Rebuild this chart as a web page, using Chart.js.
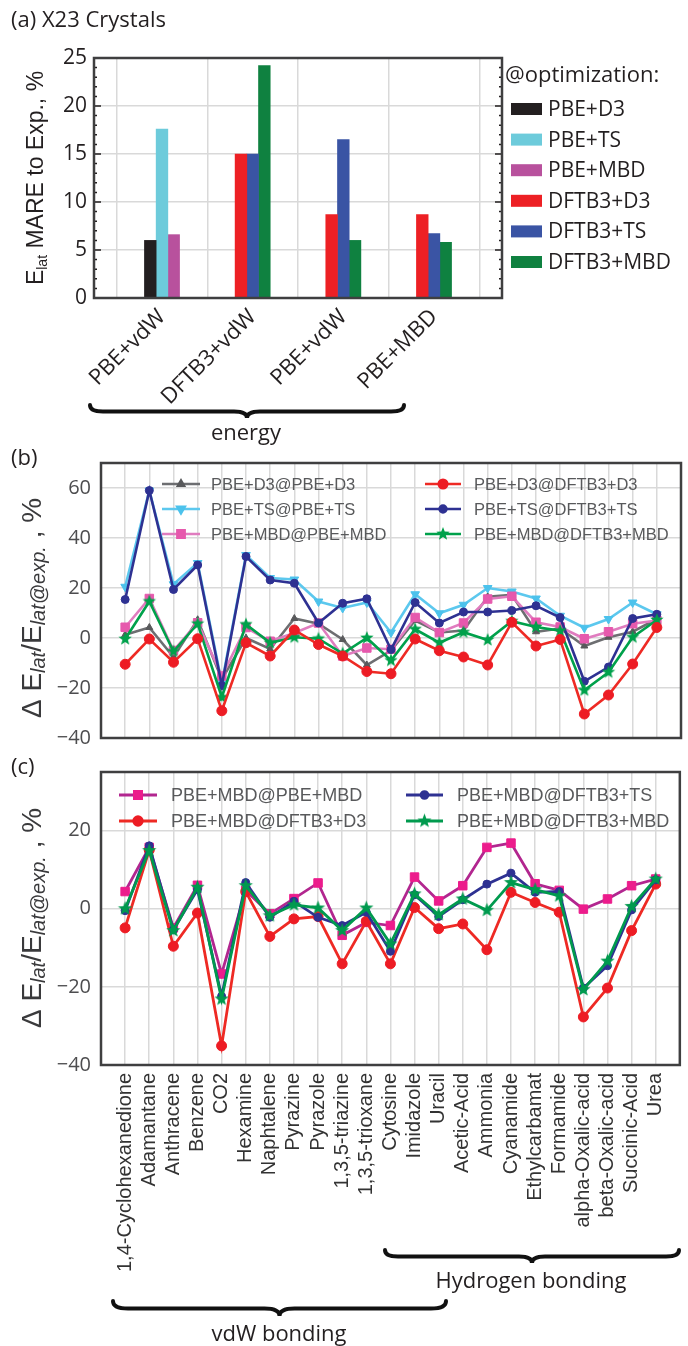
<!DOCTYPE html>
<html>
<head>
<meta charset="utf-8">
<script src="https://cdn.jsdelivr.net/npm/chart.js@4.4.1/dist/chart.umd.min.js"></script>
<style>
  html, body { margin: 0; padding: 0; background: #fff; }
  body { width: 688px; height: 1346px; position: relative; overflow: hidden; }
  .panel { position: absolute; left: 0; width: 688px; }
  #pa { top: 0; height: 445px; }
  #pb { top: 440px; height: 320px; }
  #pc { top: 750px; height: 596px; }
</style>
</head>
<body>
<div class="panel" id="pa"><canvas id="chartA"></canvas></div>
<div class="panel" id="pb"><canvas id="chartB"></canvas></div>
<div class="panel" id="pc"><canvas id="chartC"></canvas></div>
<script>
// (a) MARE por método de optimización
const groupLabels = ['PBE+vdW', 'DFTB3+vdW', 'PBE+vdW', 'PBE+MBD'];
const optLabels = ['PBE+D3', 'PBE+TS', 'PBE+MBD', 'DFTB3+D3', 'DFTB3+TS', 'DFTB3+MBD'];
const mareD3Pbe = [6.0, null, null, null];
const mareTsPbe = [17.6, null, null, null];
const mareMbdPbe = [6.6, null, null, null];
const mareD3Dftb = [null, 15.0, 8.7, 8.7];
const mareTsDftb = [null, 15.0, 16.5, 6.7];
const mareMbdDftb = [null, 24.2, 6.0, 5.8];
const mareTicks = [0, 5, 10, 15, 20, 25];

// (b), (c) desviación por cristal
const crystals = ['1,4-Cyclohexanedione', 'Adamantane', 'Anthracene', 'Benzene', 'CO2', 'Hexamine',
  'Naphtalene', 'Pyrazine', 'Pyrazole', '1,3,5-triazine', '1,3,5-trioxane', 'Cytosine', 'Imidazole',
  'Uracil', 'Acetic-Acid', 'Ammonia', 'Cyanamide', 'Ethylcarbamat', 'Formamide', 'alpha-Oxalic-acid',
  'beta-Oxalic-acid', 'Succinic-Acid', 'Urea'];
const devTicksB = [-40, -20, 0, 20, 40, 60];
const devTicksC = [-40, -20, 0, 20];

const d3AtPbeD3 = [1.3, 4.2, -7.6, 7.3, -16.5, 0, -4.4, 7.8, 5.7, -0.6, -10.8, -5, 7, 2.2, 3, 16.5, 17.3, 2.5, 3.8, -3.2, 0.3, 2.5, 7.6];
const d3AtDftbD3 = [-10.5, -0.4, -9.7, -0.3, -29.1, -1.9, -7.2, 3.2, -2.6, -7.2, -13.4, -14.3, -0.4, -5.1, -7.6, -10.8, 6.3, -3.2, -0.6, -30.4, -22.8, -10.4, 4.2];
const tsAtPbeTs = [20.5, 59, 21.5, 30, -18, 33.2, 24, 23.4, 14.6, 12, 14.2, 2.2, 17.5, 9.9, 13.3, 20, 18.6, 15.8, 8.9, 4.1, 7.6, 14.2, 9.5];
const tsAtDftbTs = [15.4, 59, 19.4, 29.2, -19, 32.6, 23.2, 21.9, 6, 13.9, 15.7, -4.6, 14.2, 6, 10.4, 10.4, 11, 12.9, 8.2, -17.3, -11.6, 7.8, 9.5];
const mbdAtPbeMbd = [4.3, 15.8, -5, 6.1, -15.2, 4.2, -1.3, 2, 6, -7.2, -4, -4.5, 8.2, 2.2, 6, 15.6, 16.7, 6.3, 4.4, -0.3, 2.5, 5.7, 7];
const mbdAtDftbMbd = [-0.4, 14.6, -5.4, 5.7, -23.7, 5.4, -1.9, 0.3, -0.3, -6.2, 0, -9, 3.5, -1.9, 2.3, -0.8, 6.7, 4.4, 2.9, -20.9, -13.7, 0.3, 7.2];

const mbdC_PbeMbd = [4.4, 15.7, -4.9, 6, -16.7, 4.7, -1.3, 2.6, 6.6, -6.8, -3.5, -4.3, 8.1, 2, 5.9, 15.7, 16.8, 6.4, 4.7, -0.1, 2.5, 5.9, 7.6];
const mbdC_DftbD3 = [-4.9, 15, -9.6, -1.1, -35.1, 4.4, -7.1, -2.6, -2, -14.1, -3.2, -14.1, 0.3, -5.1, -3.9, -10.5, 4.2, 1.6, -0.9, -27.7, -20.3, -5.6, 6.3];
const mbdC_DftbTs = [-0.5, 16.1, -5.4, 4.9, -22.4, 6.7, -2.2, 1.9, -2.2, -4.3, -0.9, -10.9, 3.6, -2, 2.3, 6.3, 9.1, 4.2, 4.4, -20.3, -14.6, -0.3, 7.4];
const mbdC_DftbMbd = [0, 14.9, -5.6, 5.5, -23.1, 5.9, -1.8, 1, 0.2, -5.6, 0.2, -9, 3.8, -1.5, 2.5, -0.4, 6.7, 4.9, 3.3, -20.7, -13.4, 0.6, 7.6];

Chart.defaults.animation = false;
Chart.defaults.font.family = '"Open Sans", sans-serif';

const GRID = '#d9d9d9';
const FRAME = '#3f3f40';
const MYRIAD = '"Open Sans", sans-serif';
const HELV = '"Liberation Sans", Arial, sans-serif';

// estrella rellena para PBE+MBD@DFTB3+MBD
function starImage(color, r) {
    const c = document.createElement('canvas');
    const s = Math.ceil(r * 2 + 2);
    c.width = s; c.height = s;
    const g = c.getContext('2d');
    g.fillStyle = color;
    g.beginPath();
    for (let k = 0; k < 10; k++) {
        const rad = k % 2 === 0 ? r : r * 0.42;
        const ang = -Math.PI / 2 + k * Math.PI / 5;
        const px = s / 2 + rad * Math.cos(ang), py = s / 2 + rad * Math.sin(ang);
        k === 0 ? g.moveTo(px, py) : g.lineTo(px, py);
    }
    g.closePath();
    g.fill();
    return c;
}

const toXY = arr => arr.map((v, i) => ({ x: i, y: v }));
const minus = v => String(v).replace('-', '\u2212');

function brace(ctx, x1, x2, y, h) {
    const xm = (x1 + x2) / 2, r = h / 2;
    ctx.beginPath();
    ctx.moveTo(x1, y);
    ctx.quadraticCurveTo(x1, y + r, x1 + 2 * r, y + r);
    ctx.lineTo(xm - 2 * r, y + r);
    ctx.quadraticCurveTo(xm, y + r, xm, y + h);
    ctx.quadraticCurveTo(xm, y + r, xm + 2 * r, y + r);
    ctx.lineTo(x2 - 2 * r, y + r);
    ctx.quadraticCurveTo(x2, y + r, x2, y);
    ctx.stroke();
}

function rotTitle(ctx, parts, cx, cy) {
    ctx.save();
    ctx.translate(cx, cy);
    ctx.rotate(-Math.PI / 2);
    let total = 0;
    parts.forEach(p => { ctx.font = p.font; p.w = ctx.measureText(p.text).width; total += p.w; });
    let x = -total / 2;
    ctx.textAlign = 'left';
    ctx.textBaseline = 'alphabetic';
    parts.forEach(p => {
        ctx.font = p.font;
        ctx.fillStyle = p.color;
        ctx.fillText(p.text, x, p.dy || 0);
        x += p.w;
    });
    ctx.restore();
}

// marco, leyendas, títulos y llaves
const decor = {
    id: 'decor',
    afterDraw(chart, args, o) {
        const ctx = chart.ctx, a = chart.chartArea;
        ctx.save();
        if (o.minorTicks) {
            const ys = chart.scales.y;
            ctx.strokeStyle = '#231f20';
            ctx.lineWidth = 1.5;
            for (let v = ys.min; v <= ys.max; v += 1) {
                const p = ys.getPixelForValue(v);
                const len = v % 5 === 0 ? 7 : 3;
                ctx.beginPath();
                ctx.moveTo(a.left, p); ctx.lineTo(a.left + len, p);
                ctx.moveTo(a.right, p); ctx.lineTo(a.right - len, p);
                ctx.stroke();
            }
        }
        ctx.strokeStyle = FRAME;
        ctx.lineWidth = 2.5;
        ctx.strokeRect(a.left, a.top, a.right - a.left, a.bottom - a.top);

        const lg = o.legend;
        if (lg && lg.type === 'box') {
            ctx.font = lg.titleFont; ctx.fillStyle = '#231f20';
            ctx.textBaseline = 'middle'; ctx.textAlign = 'left';
            ctx.fillText(lg.title, lg.titleX, lg.titleY);
            chart.data.datasets.forEach((ds, i) => {
                const y = lg.y0 + i * lg.dy;
                ctx.fillStyle = ds.backgroundColor;
                ctx.fillRect(lg.boxX, y - lg.boxH / 2, lg.boxW, lg.boxH);
                ctx.font = lg.font; ctx.fillStyle = '#231f20';
                ctx.fillText(ds.label, lg.textX, y + 1);
            });
        } else if (lg && lg.type === 'line') {
            lg.items.forEach(it => {
                const ds = chart.data.datasets[it.ds];
                ctx.strokeStyle = ds.borderColor;
                ctx.lineWidth = ds.borderWidth;
                ctx.beginPath(); ctx.moveTo(it.x1, it.y); ctx.lineTo(it.x2, it.y); ctx.stroke();
                ctx.fillStyle = ds.pointBackgroundColor;
                ctx.strokeStyle = ds.pointBorderColor;
                Chart.helpers.drawPoint(ctx, {
                    pointStyle: ds.pointStyle, radius: ds.pointRadius * 0.85,
                    rotation: ds.pointRotation || 0, borderWidth: 1
                }, (it.x1 + it.x2) / 2, it.y);
                ctx.font = lg.font; ctx.fillStyle = '#58595b';
                ctx.textAlign = 'left'; ctx.textBaseline = 'middle';
                ctx.fillText(ds.label, it.tx, it.y + 1);
            });
        }

        (o.texts || []).forEach(t => {
            ctx.font = t.font; ctx.fillStyle = t.color || '#231f20';
            ctx.textAlign = t.align || 'left'; ctx.textBaseline = 'middle';
            ctx.fillText(t.text, t.x, t.y);
        });
        ctx.strokeStyle = '#111';
        ctx.lineWidth = 4;
        ctx.lineCap = 'round';
        (o.braces || []).forEach(b => brace(ctx, b.x1, b.x2, b.y, b.h));
        if (o.yTitle) rotTitle(ctx, o.yTitle.parts, o.yTitle.x, o.yTitle.y);
        ctx.restore();
    }
};

// ---------- (a) ----------
const barColors = ['#231f20', '#6dcbdb', '#b8519d', '#ed2024', '#3a54a4', '#0f8140'];
const barSeries = [mareD3Pbe, mareTsPbe, mareMbdPbe, mareD3Dftb, mareTsDftb, mareMbdDftb];

new Chart(document.getElementById('chartA'), {
    type: 'bar',
    data: {
        datasets: barSeries.map((s, i) => ({
            label: optLabels[i],
            data: toXY(s),
            backgroundColor: barColors[i],
            borderWidth: 0,
            barThickness: 11.7,
            skipNull: true
        }))
    },
    options: {
        responsive: true,
        maintainAspectRatio: false,
        layout: { padding: { top: 58, right: 186, left: 0, bottom: 0 } },
        plugins: {
            legend: { display: false },
            tooltip: { enabled: false },
            decor: {
                minorTicks: true,
                legend: {
                    type: 'box', title: '@optimization:', titleX: 505, titleY: 76,
                    titleFont: '22px ' + MYRIAD, font: '21px ' + MYRIAD,
                    y0: 109, dy: 30.6, boxX: 511, boxW: 31, boxH: 12, textX: 548
                },
                texts: [
                    { text: '(a) X23 Crystals', x: 11, y: 21, font: '22px ' + MYRIAD },
                    { text: 'energy', x: 246, y: 434, font: '22px ' + MYRIAD, align: 'center' }
                ],
                braces: [{ x1: 90, x2: 404, y: 405, h: 13 }],
                yTitle: {
                    x: 43, y: 178, parts: [
                        { text: 'E', font: '23px ' + HELV, color: '#231f20' },
                        { text: 'lat', font: '14px ' + HELV, color: '#231f20', dy: 4 },
                        { text: ' MARE to Exp., %', font: '23px ' + HELV, color: '#231f20' }
                    ]
                }
            }
        },
        scales: {
            x: {
                type: 'linear', min: -0.75, max: 3.75, offset: false,
                afterBuildTicks: s => { s.ticks = groupLabels.map((_, i) => ({ value: i })); },
                afterFit: s => { s.height = 147; },
                grid: { color: GRID, lineWidth: 1.5, drawTicks: false },
                border: { display: false },
                ticks: {
                    minRotation: 45, maxRotation: 45, padding: 6, autoSkip: false,
                    color: '#231f20', font: { size: 22, family: MYRIAD },
                    callback: v => groupLabels[v]
                }
            },
            y: {
                min: 0, max: 25,
                afterBuildTicks: s => { s.ticks = mareTicks.map(v => ({ value: v })); },
                afterFit: s => { s.width = 94; },
                grid: { color: GRID, lineWidth: 1.5, drawTicks: false },
                border: { display: false },
                ticks: { padding: 7, color: '#231f20', font: { size: 21, family: MYRIAD } }
            }
        }
    },
    plugins: [decor]
});

// ---------- (b) ----------
const lineSet = (label, data, color, ptColor, style, radius, extra) => Object.assign({
    label, data: toXY(data), borderColor: color, borderWidth: 2.6, tension: 0, fill: false,
    pointStyle: style, pointRadius: radius, pointBackgroundColor: ptColor, pointBorderColor: ptColor,
    pointBorderWidth: 1
}, extra || {});

const greenStar = starImage('#00a14b', 7);
const greenStarC = starImage('#009a4e', 7.5);

const lineScales = (ticks, min, max, showLabels, xHeight) => ({
    x: {
        type: 'linear', min: -1, max: 23, offset: false,
        afterBuildTicks: s => { s.ticks = crystals.map((_, i) => ({ value: i })); },
        afterFit: s => { s.height = xHeight; },
        grid: { color: GRID, lineWidth: 1.5, drawTicks: false },
        border: { display: false },
        ticks: {
            display: showLabels, minRotation: 90, maxRotation: 90, padding: 8, autoSkip: false,
            color: '#333', font: { size: 20, family: HELV },
            callback: v => crystals[v]
        }
    },
    y: {
        min, max,
        afterBuildTicks: s => { s.ticks = ticks.map(v => ({ value: v })); },
        afterFit: s => { s.width = 101; },
        grid: { color: GRID, lineWidth: 1.5, drawTicks: false },
        border: { display: false },
        ticks: { padding: 10, color: '#4d4d4f', font: { size: 20, family: MYRIAD }, callback: minus }
    }
});

const devTitle = (x, y) => ({
    x, y, parts: [
        { text: '\u0394 E', font: '28px ' + HELV, color: '#3a3a3c' },
        { text: 'lat', font: 'italic 20px ' + HELV, color: '#3a3a3c', dy: 4 },
        { text: '/E', font: '28px ' + HELV, color: '#3a3a3c' },
        { text: 'lat@exp.', font: 'italic 20px ' + HELV, color: '#3a3a3c', dy: 4 },
        { text: ' , %', font: '28px ' + HELV, color: '#3a3a3c' }
    ]
});

new Chart(document.getElementById('chartB'), {
    type: 'line',
    data: {
        datasets: [
            lineSet('PBE+D3@PBE+D3', d3AtPbeD3, '#6d6e71', '#58595b', 'triangle', 4, { order: 6 }),
            lineSet('PBE+TS@PBE+TS', tsAtPbeTs, '#5cc8ee', '#4cc2ec', 'triangle', 5, { pointRotation: 180, order: 5 }),
            lineSet('PBE+MBD@PBE+MBD', mbdAtPbeMbd, '#e07cbf', '#e659ad', 'rect', 6, { order: 4 }),
            lineSet('PBE+D3@DFTB3+D3', d3AtDftbD3, '#ee2a24', '#ed1c24', 'circle', 5, { order: 1 }),
            lineSet('PBE+TS@DFTB3+TS', tsAtDftbTs, '#2e3192', '#2e3192', 'circle', 4, { order: 3 }),
            lineSet('PBE+MBD@DFTB3+MBD', mbdAtDftbMbd, '#00a14b', '#00a14b', greenStar, 6, { order: 2 })
        ]
    },
    options: {
        responsive: true,
        maintainAspectRatio: false,
        layout: { padding: { top: 23, right: 1, left: 0, bottom: 7 } },
        plugins: {
            legend: { display: false },
            tooltip: { enabled: false },
            decor: {
                legend: {
                    type: 'line', font: '16.5px ' + HELV,
                    items: [
                        { ds: 0, x1: 162, x2: 200, tx: 211, y: 44 },
                        { ds: 1, x1: 162, x2: 200, tx: 211, y: 69 },
                        { ds: 2, x1: 162, x2: 200, tx: 211, y: 94 },
                        { ds: 3, x1: 425, x2: 461, tx: 474, y: 44 },
                        { ds: 4, x1: 425, x2: 461, tx: 474, y: 69 },
                        { ds: 5, x1: 425, x2: 461, tx: 474, y: 94 }
                    ]
                },
                texts: [{ text: '(b)', x: 11, y: 19, font: '22px ' + MYRIAD }],
                yTitle: devTitle(41, 168)
            }
        },
        scales: lineScales(devTicksB, -40, 70, false, 0)
    },
    plugins: [decor]
});

// ---------- (c) ----------
new Chart(document.getElementById('chartC'), {
    type: 'line',
    data: {
        datasets: [
            lineSet('PBE+MBD@PBE+MBD', mbdC_PbeMbd, '#b2268f', '#ec1c8c', 'rect', 6, { borderWidth: 2.8, order: 4 }),
            lineSet('PBE+MBD@DFTB3+D3', mbdC_DftbD3, '#ee2a24', '#ed1c24', 'circle', 5, { borderWidth: 2.8, order: 3 }),
            lineSet('PBE+MBD@DFTB3+TS', mbdC_DftbTs, '#2e3192', '#2e3192', 'circle', 4, { borderWidth: 2.8, order: 2 }),
            lineSet('PBE+MBD@DFTB3+MBD', mbdC_DftbMbd, '#009a4e', '#009a4e', greenStarC, 6, { borderWidth: 2.8, order: 1 })
        ]
    },
    options: {
        responsive: true,
        maintainAspectRatio: false,
        layout: { padding: { top: 22, right: 1, left: 0, bottom: 0 } },
        plugins: {
            legend: { display: false },
            tooltip: { enabled: false },
            decor: {
                legend: {
                    type: 'line', font: '18px ' + HELV,
                    items: [
                        { ds: 0, x1: 119, x2: 157, tx: 171, y: 45 },
                        { ds: 1, x1: 119, x2: 157, tx: 171, y: 71 },
                        { ds: 2, x1: 406, x2: 443, tx: 457, y: 45 },
                        { ds: 3, x1: 406, x2: 443, tx: 457, y: 71 }
                    ]
                },
                texts: [
                    { text: '(c)', x: 11, y: 18, font: '22px ' + MYRIAD },
                    { text: 'Hydrogen bonding', x: 531, y: 532, font: '22px ' + MYRIAD, align: 'center' },
                    { text: 'vdW bonding', x: 279, y: 585, font: '22px ' + MYRIAD, align: 'center' }
                ],
                braces: [
                    { x1: 385, x2: 679, y: 500, h: 13 },
                    { x1: 113, x2: 446, y: 551, h: 15 }
                ],
                yTitle: devTitle(41, 168)
            }
        },
        scales: lineScales(devTicksC, -40, 35, true, 281)
    },
    plugins: [decor]
});
</script>
</body>
</html>
